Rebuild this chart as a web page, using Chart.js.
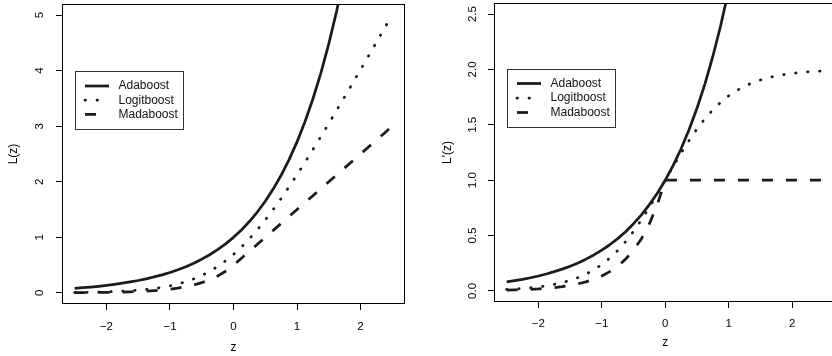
<!DOCTYPE html>
<html>
<head>
<meta charset="utf-8">
<script src="https://cdn.jsdelivr.net/npm/chart.js@4.4.1/dist/chart.umd.min.js"></script>
<style>
  html, body { margin: 0; padding: 0; background: #fff; overflow: hidden; }
  body { width: 832px; height: 356px; position: relative; }
  .panel { position: absolute; top: 0; height: 356px; }
  #left { left: 0; width: 416px; }
  #right { left: 416px; width: 440px; }
</style>
</head>
<body>
<div class="panel" id="left"><canvas id="lossChart" width="416" height="356"></canvas></div>
<div class="panel" id="right"><canvas id="gradChart" width="440" height="356"></canvas></div>
<script>
// z grid shared by every curve
const zValues = [-2.5, -2.375, -2.25, -2.125, -2, -1.875, -1.75, -1.625, -1.5, -1.375, -1.25, -1.125,
  -1, -0.875, -0.75, -0.625, -0.5, -0.375, -0.25, -0.125, 0, 0.125, 0.25, 0.375, 0.5, 0.625, 0.75,
  0.875, 1, 1.125, 1.25, 1.375, 1.5, 1.625, 1.75, 1.875, 2, 2.125, 2.25, 2.375, 2.5];

// left panel: L(z)
const adaLoss = [0.082, 0.093, 0.105, 0.119, 0.135, 0.153, 0.174, 0.197, 0.223, 0.253, 0.287, 0.325,
  0.368, 0.417, 0.472, 0.535, 0.607, 0.687, 0.779, 0.882, 1, 1.133, 1.284, 1.455, 1.649, 1.868, 2.117,
  2.399, 2.718, 3.080, 3.490, 3.955, 4.482, 5.078, 5.755, 6.521, 7.389, 8.373, 9.488, 10.751, 12.182];
const logitLoss = [0.007, 0.009, 0.011, 0.014, 0.018, 0.023, 0.030, 0.038, 0.049, 0.062, 0.079, 0.100,
  0.127, 0.160, 0.201, 0.252, 0.313, 0.387, 0.474, 0.576, 0.693, 0.826, 0.974, 1.137, 1.313, 1.502, 1.701,
  1.910, 2.127, 2.350, 2.579, 2.812, 3.049, 3.288, 3.530, 3.773, 4.018, 4.264, 4.511, 4.759, 5.007];
const madaLoss = [0.003, 0.004, 0.006, 0.007, 0.009, 0.012, 0.015, 0.019, 0.025, 0.032, 0.041, 0.053,
  0.068, 0.087, 0.112, 0.143, 0.184, 0.236, 0.303, 0.389, 0.5, 0.625, 0.75, 0.875, 1, 1.125, 1.25,
  1.375, 1.5, 1.625, 1.75, 1.875, 2, 2.125, 2.25, 2.375, 2.5, 2.625, 2.75, 2.875, 3];

// right panel: L'(z)
const adaGrad = [0.082, 0.093, 0.105, 0.119, 0.135, 0.153, 0.174, 0.197, 0.223, 0.253, 0.287, 0.325,
  0.368, 0.417, 0.472, 0.535, 0.607, 0.687, 0.779, 0.882, 1, 1.133, 1.284, 1.455, 1.649, 1.868, 2.117,
  2.399, 2.718, 3.080, 3.490, 3.955, 4.482, 5.078, 5.755, 6.521, 7.389, 8.373, 9.488, 10.751, 12.182];
const logitGrad = [0.013, 0.017, 0.022, 0.028, 0.036, 0.046, 0.059, 0.075, 0.095, 0.120, 0.152, 0.191,
  0.238, 0.296, 0.365, 0.445, 0.538, 0.642, 0.755, 0.876, 1, 1.124, 1.245, 1.358, 1.462, 1.555, 1.635,
  1.704, 1.762, 1.809, 1.848, 1.880, 1.905, 1.925, 1.941, 1.954, 1.964, 1.972, 1.978, 1.983, 1.987];
const madaGrad = [0.007, 0.009, 0.011, 0.014, 0.018, 0.024, 0.030, 0.039, 0.050, 0.064, 0.082, 0.105,
  0.135, 0.174, 0.223, 0.287, 0.368, 0.472, 0.607, 0.779, 1, 1, 1, 1, 1, 1, 1,
  1, 1, 1, 1, 1, 1, 1, 1, 1, 1, 1, 1, 1, 1];

const seriesNames = ['Adaboost', 'Logitboost', 'Madaboost'];
const zTicks = [-2, -1, 0, 1, 2];
const lossTicks = [0, 1, 2, 3, 4, 5];
const gradTicks = [0, 0.5, 1, 1.5, 2, 2.5];

const INK = '#1b1b1b';
Chart.defaults.font.family = "'Liberation Sans', Arial, Helvetica, sans-serif";
Chart.defaults.color = '#000';

const series = ys => zValues.map((z, i) => ({ x: z, y: ys[i] }));

function makeDatasets(ada, logit, mada) {
    const base = { borderColor: INK, borderWidth: 2.75, pointRadius: 0, tension: 0, fill: false, clip: 0, borderJoinStyle: 'round' };
    return [
        { ...base, label: seriesNames[0], data: series(ada) },
        { ...base, label: seriesNames[1], data: series(logit), borderDash: [0.5, 11.5], borderCapStyle: 'round' },
        { ...base, label: seriesNames[2], data: series(mada), borderDash: [11, 13], borderCapStyle: 'butt' }
    ];
}

// R style box round the plot region
const frame = {
    id: 'frame',
    afterDatasetsDraw(chart) {
        const { ctx, chartArea: a } = chart;
        ctx.save();
        ctx.strokeStyle = '#000';
        ctx.lineWidth = 1;
        ctx.strokeRect(Math.round(a.left) + 0.5, Math.round(a.top) + 0.5,
            Math.round(a.right - a.left) - 1, Math.round(a.bottom - a.top) - 1);
        ctx.restore();
    }
};

// legend box inside the plot, like R's legend()
const boxLegend = {
    id: 'boxLegend',
    afterDraw(chart, args, o) {
        const ctx = chart.ctx;
        ctx.save();
        ctx.lineWidth = 1;
        ctx.strokeStyle = '#333';
        ctx.strokeRect(o.x + 0.5, o.y + 0.5, o.w, o.h);
        chart.data.datasets.forEach((ds, i) => {
            const y = o.y + o.first + i * o.gap;
            ctx.beginPath();
            ctx.setLineDash(ds.borderDash || []);
            ctx.lineCap = ds.borderCapStyle || 'butt';
            ctx.lineWidth = ds.borderWidth;
            ctx.strokeStyle = ds.borderColor;
            ctx.moveTo(o.x + 10, y);
            ctx.lineTo(o.x + 34, y);
            ctx.stroke();
            ctx.setLineDash([]);
            ctx.fillStyle = '#111';
            ctx.font = "12px 'Liberation Sans', Arial, sans-serif";
            ctx.textBaseline = 'middle';
            ctx.textAlign = 'left';
            ctx.fillText(ds.label, o.x + 43.5, y);
        });
        ctx.restore();
    }
};

const fmtZ = v => (v < 0 ? '\u2212' + Math.abs(v) : String(v));

function makeChart(id, cfg) {
    const tickGrid = { display: true, drawOnChartArea: false, drawTicks: true, tickLength: 6, color: '#000', lineWidth: 1 };
    return new Chart(document.getElementById(id), {
        type: 'line',
        data: { datasets: cfg.datasets },
        plugins: [frame, boxLegend],
        options: {
            responsive: false,
            animation: false,
            layout: { padding: cfg.padding },
            plugins: { legend: { display: false }, tooltip: { enabled: false }, boxLegend: cfg.legend },
            scales: {
                x: {
                    type: 'linear', min: -2.7, max: 2.7,
                    afterBuildTicks: s => { s.ticks = zTicks.map(v => ({ value: v })); },
                    afterFit: s => { s.height = cfg.xHeight; s.paddingLeft = 0; s.paddingRight = 0; },
                    ticks: { padding: cfg.xTickPad, maxRotation: 0, autoSkip: false, font: { size: 11.5 }, callback: v => fmtZ(v) },
                    grid: tickGrid,
                    border: { display: false },
                    title: { display: true, text: 'z', font: { size: 12 }, padding: { top: 0, bottom: cfg.xTitlePad } }
                },
                y: {
                    type: 'linear', min: cfg.yMin, max: cfg.yMax,
                    afterBuildTicks: s => { s.ticks = cfg.yTicks.map(v => ({ value: v })); },
                    afterFit: s => { s.width = cfg.yWidth; s.paddingTop = 0; s.paddingBottom = 0; },
                    ticks: { padding: cfg.yTickPad, minRotation: 90, maxRotation: 90, crossAlign: 'center', autoSkip: false,
                        font: { size: 11.5 }, callback: cfg.yFmt },
                    grid: tickGrid,
                    border: { display: false },
                    title: { display: true, text: cfg.yTitle, font: { size: 12 }, padding: { top: cfg.yTitlePad, bottom: 0 } }
                }
            }
        }
    });
}

makeChart('lossChart', {
    datasets: makeDatasets(adaLoss, logitLoss, madaLoss),
    padding: { left: 0, top: 4, right: 11, bottom: 0 },
    xHeight: 52, yWidth: 62,
    xTickPad: 10, yTickPad: 12.5, xTitlePad: 1.4, yTitlePad: 6.8,
    yMin: -0.2, yMax: 5.2, yTicks: lossTicks, yFmt: v => String(v), yTitle: 'L(z)',
    legend: { x: 75, y: 71, w: 108, h: 58, first: 15, gap: 14.2 }
});

makeChart('gradChart', {
    datasets: makeDatasets(adaGrad, logitGrad, madaGrad),
    padding: { left: 0, top: 3, right: 19.5, bottom: 0 },
    xHeight: 54, yWidth: 78,
    xTickPad: 9, yTickPad: 7, xTitlePad: 6.4, yTitlePad: 24.8,
    yMin: -0.1, yMax: 2.6, yTicks: gradTicks, yFmt: v => v.toFixed(1), yTitle: "L'(z)",
    legend: { x: 91, y: 69, w: 108, h: 58, first: 14.5, gap: 14.5 }
});
</script>
</body>
</html>
